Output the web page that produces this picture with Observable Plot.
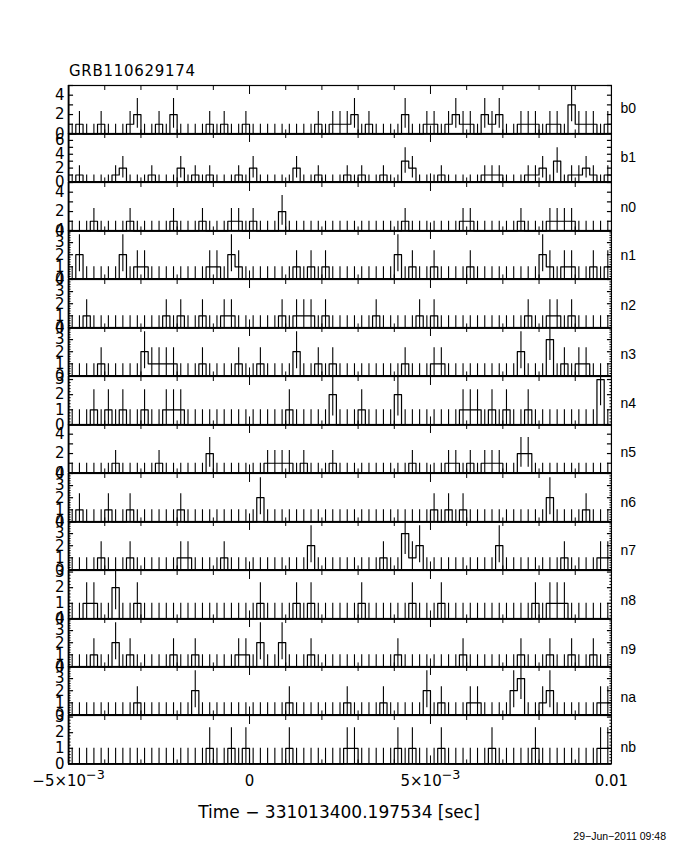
<!DOCTYPE html>
<html><head><meta charset="utf-8">
<script src="https://cdn.jsdelivr.net/npm/d3@7"></script>
<script src="https://cdn.jsdelivr.net/npm/@observablehq/plot@0.6"></script>
<style>
body{margin:0;background:#fff;}
#wrap{position:relative;width:680px;height:850px;background:#fff;overflow:hidden;}
#wrap > div.pan{position:absolute;left:0;}
#over{position:absolute;left:0;top:0;}
</style></head><body><div id="wrap"></div>
<script>
// ---- data ----
const title = "GRB110629174";
const xTitle = "Time \u2212 331013400.197534 [sec]";
const dateText = "29\u2212Jun\u22122011 09:48";
const detectorNames = ["b0","b1","n0","n1","n2","n3","n4","n5","n6","n7","n8","n9","na","nb"];
const binStart = -0.005, binWidth = 0.0002;
const xMinorTicks = [-0.004,-0.003,-0.002,-0.001,0.001,0.002,0.003,0.004,0.006,0.007,0.008,0.009];
const xMajorTicks = [0, 0.005];
const xLabelValues = [-0.005, 0, 0.005, 0.01];
const xLabelTexts = ["\u22125\u00d710^\u22123", "0", "5\u00d710^\u22123", "0.01"];
const yMaxes = [5,7,5,4,4,4,3.2,5,4,4,3.1,4,4,3.1];

const b0 = [0,1,0,0,1, 0,0,0,1,2, 0,0,1,0,2,
            0,0,0,0,1, 0,1,0,0,1, 0,0,0,0,0,
            0,0,0,0,1, 0,1,1,1,2, 0,1,0,0,0,
            0,2,0,0,1, 1,0,1,2,1, 1,0,2,1,2,
            0,0,1,1,1, 0,1,1,0,3, 1,1,1,0,1];
const b1 = [0,1,0,0,0, 0,1,2,0,0, 0,1,0,0,0,
            2,0,1,0,1, 0,0,0,1,0, 2,0,0,0,0,
            0,2,0,0,1, 0,0,0,1,0, 1,0,0,1,0,
            0,3,2,0,0, 0,1,0,0,0, 0,0,1,1,1,
            0,0,0,1,1, 2,0,3,0,1, 1,2,1,0,1];
const n0 = [0,0,0,1,0, 0,0,0,1,0, 0,0,0,0,1,
            0,0,0,1,0, 0,0,1,1,0, 1,0,0,0,2,
            0,0,0,0,0, 0,0,0,0,0, 0,0,0,0,0,
            0,1,0,0,0, 0,0,0,0,1, 1,0,0,0,0,
            0,0,1,0,0, 0,1,1,1,1, 0,0,0,0,0];
const n1 = [0,2,0,0,0, 0,0,2,0,1, 1,0,0,0,0,
            0,0,0,0,1, 1,0,2,1,0, 0,0,0,0,0,
            0,1,0,1,0, 1,0,0,0,0, 0,0,0,0,0,
            2,0,1,0,0, 1,0,0,0,0, 1,0,0,0,0,
            0,0,0,0,0, 2,1,0,1,1, 0,0,1,0,1];
const n2 = [0,0,1,0,0, 0,0,0,0,0, 0,0,0,1,0,
            1,0,0,1,0, 0,1,1,0,0, 0,0,0,0,1,
            0,1,1,1,0, 1,0,0,0,0, 0,0,1,0,0,
            0,0,0,1,0, 1,0,0,0,0, 0,0,0,0,0,
            0,0,0,1,0, 0,1,1,0,1, 0,0,0,0,0];
const n3 = [0,0,0,0,1, 0,0,0,0,0, 2,1,1,1,1,
            0,0,0,1,0, 0,0,0,1,0, 0,1,0,0,0,
            0,2,0,0,1, 0,1,0,0,0, 0,0,0,0,0,
            0,1,0,0,0, 1,1,0,0,0, 0,0,0,0,0,
            0,0,2,0,0, 0,3,0,1,0, 1,1,0,0,0];
const n4 = [0,0,0,1,0, 1,0,1,0,0, 1,0,0,1,1,
            1,0,0,0,0, 0,0,0,0,0, 0,0,0,0,0,
            1,0,0,0,0, 0,2,0,0,0, 1,0,0,0,0,
            2,0,0,0,0, 0,0,0,0,1, 1,1,0,1,0,
            1,0,0,1,0, 0,0,0,0,0, 0,0,0,3,0];
const n5 = [0,0,0,0,0, 0,1,0,0,0, 0,0,1,0,0,
            0,0,0,0,2, 0,0,0,0,0, 0,0,1,1,1,
            1,0,1,0,0, 0,1,0,0,0, 0,0,0,0,0,
            0,0,1,0,0, 0,0,1,1,0, 1,0,1,1,1,
            0,0,2,2,0, 0,0,0,0,0, 0,0,0,0,0];
const n6 = [0,1,0,0,0, 1,0,0,1,0, 0,0,0,0,0,
            1,0,0,0,0, 0,0,0,0,0, 0,2,0,0,0,
            0,0,0,0,0, 0,0,0,0,0, 0,0,0,0,0,
            0,0,0,0,0, 1,0,1,0,1, 0,0,0,0,0,
            0,0,0,0,0, 0,2,0,0,0, 0,1,0,0,0];
const n7 = [0,0,0,0,1, 0,0,0,1,0, 0,0,0,0,0,
            1,1,0,0,0, 0,1,0,0,0, 0,0,0,0,0,
            0,0,0,2,0, 0,0,0,0,0, 0,0,0,1,0,
            0,3,1,2,0, 0,0,0,0,0, 0,0,0,0,2,
            0,0,0,0,0, 0,0,0,1,0, 0,0,0,1,1];
const n8 = [0,0,1,1,0, 0,2,0,0,1, 0,0,0,0,0,
            0,0,0,0,0, 0,0,0,0,0, 0,1,0,0,0,
            0,1,0,1,0, 0,0,0,0,0, 1,0,0,0,0,
            0,0,1,0,0, 0,1,0,0,0, 0,0,0,0,0,
            0,0,0,0,1, 0,1,1,1,0, 0,0,0,0,0];
const n9 = [0,0,0,1,0, 0,2,0,1,0, 0,0,0,0,1,
            0,0,1,0,0, 0,0,0,1,1, 0,2,0,0,2,
            0,0,0,1,0, 0,0,0,0,0, 0,0,0,0,0,
            1,0,0,0,0, 0,0,0,0,1, 0,0,0,0,0,
            0,0,1,0,0, 0,1,0,0,1, 0,0,1,0,0];
const na = [0,0,0,0,0, 0,0,0,0,1, 0,0,0,0,0,
            0,0,2,0,0, 0,0,0,0,0, 0,0,0,0,0,
            1,0,0,0,0, 0,0,0,1,0, 0,0,0,1,0,
            0,0,0,0,2, 0,1,0,0,0, 1,1,0,0,0,
            0,2,3,0,0, 1,2,0,0,0, 0,0,0,1,1];
const nb = [0,0,0,0,0, 0,0,0,0,0, 0,0,0,0,0,
            0,0,0,0,1, 0,0,1,0,1, 0,0,0,0,0,
            1,0,0,0,0, 0,0,0,1,1, 0,0,0,0,0,
            1,0,1,0,0, 0,1,0,0,0, 0,0,0,1,0,
            0,0,0,0,1, 0,0,0,0,0, 0,0,0,1,1];
const countSeries = [b0,b1,n0,n1,n2,n3,n4,n5,n6,n7,n8,n9,na,nb];

// ---- layout ----
const W = 680, ML = 68, MR = 69, TOP0 = 85, PH = 48.45;
const FONT = "DejaVu Sans, sans-serif";
const wrap = document.getElementById("wrap");
const ns = "http://www.w3.org/2000/svg";

// overlay texts
const over = d3.select(wrap).append("svg").attr("id","over").attr("width",W).attr("height",850);
over.append("text").attr("x",69).attr("y",76).attr("font-family",FONT).attr("font-size",15)
  .attr("letter-spacing","0.7px").text(title);
over.append("text").attr("x",339).attr("y",818).attr("text-anchor","middle").attr("font-family",FONT)
  .attr("font-size",17).text(xTitle);
over.append("text").attr("x",666).attr("y",840).attr("text-anchor","end").attr("font-family","Liberation Sans, sans-serif")
  .attr("font-size",10.5).text(dateText);

const noText = () => "";

countSeries.forEach((counts, i) => {
  const ymax = yMaxes[i];
  const name = detectorNames[i];
  const isLast = i === countSeries.length - 1;
  const steps = counts.map((c, k) => ({x: binStart + k * binWidth, y: c}));
  steps.push({x: binStart + counts.length * binWidth, y: counts[counts.length - 1]});
  const bars = counts.map((c, k) => ({
    x: binStart + (k + 0.5) * binWidth,
    lo: Math.max(0, c - Math.sqrt(c)),
    hi: c === 0 ? 1 : c + Math.sqrt(c + 0.75)
  }));
  const wide = ymax >= 5;
  const labels = d3.range(0, Math.floor(ymax) + 1e-9, wide ? 2 : 1);
  const major = d3.range(1, Math.floor(ymax) + 1e-9, 1);
  const minor = wide ? [] : d3.range(0.2, ymax, 0.2).filter(v => Math.abs(v - Math.round(v)) > 1e-6);

  const marks = [
    Plot.line(steps, {x: "x", y: "y", curve: "step-after", stroke: "black", strokeWidth: 1.2}),
    Plot.ruleX(bars, {x: "x", y1: "lo", y2: "hi", stroke: "black", strokeWidth: 1.1, clip: true}),
    Plot.frame({stroke: "black", strokeWidth: 1.2}),
    Plot.ruleY([0], {stroke: "black", strokeWidth: 1.8}),
    Plot.ruleX([binStart], {stroke: "black", strokeWidth: 1.8}),
    Plot.axisY({anchor: "left", ticks: major, tickSize: -5, tickFormat: noText, label: null, strokeWidth: 1.2}),
    Plot.axisY({anchor: "right", ticks: major, tickSize: -5, tickFormat: noText, label: null, strokeWidth: 1.2}),
    Plot.axisY({anchor: "left", ticks: labels, tickSize: 0, tickPadding: 4, tickFormat: d => String(d), label: null,
      fontSize: 15, fontFamily: FONT}),
    Plot.axisX({anchor: "top", ticks: xMinorTicks, tickSize: -4, tickFormat: noText, label: null}),
    Plot.axisX({anchor: "bottom", ticks: xMinorTicks, tickSize: -4, tickFormat: noText, label: null}),
    Plot.axisX({anchor: "top", ticks: xMajorTicks, tickSize: -8, tickFormat: noText, label: null}),
    Plot.axisX({anchor: "bottom", ticks: xMajorTicks, tickSize: -8, tickFormat: noText, label: null}),
    Plot.text([name], {frameAnchor: "top-right", dx: 9, dy: 18 + 0.65 * i, textAnchor: "start", fontSize: 14,
      fontFamily: "Liberation Sans, sans-serif"})
  ];
  if (minor.length) {
    marks.push(Plot.axisY({anchor: "left", ticks: minor, tickSize: -2.5, tickFormat: noText, label: null}));
    marks.push(Plot.axisY({anchor: "right", ticks: minor, tickSize: -2.5, tickFormat: noText, label: null}));
  }
  if (isLast) {
    marks.push(Plot.axisX({anchor: "bottom", ticks: xLabelValues, tickSize: 0, tickPadding: 11, label: null,
      tickFormat: d => xLabelTexts[xLabelValues.indexOf(d)], fontSize: 15, fontFamily: FONT}));
  }

  const chart = Plot.plot({
    width: W, height: PH,
    marginLeft: ML, marginRight: MR, marginTop: 0, marginBottom: 0,
    x: {domain: [binStart, 0.01], label: null},
    y: {domain: [0, ymax], label: null},
    style: {background: "transparent", overflow: "visible", fontFamily: FONT},
    marks
  });

  if (isLast) {
    chart.querySelectorAll("text").forEach(t => {
      const s = t.textContent;
      if (s.includes("^")) {
        const [a, b] = s.split("^");
        t.textContent = "";
        const t1 = document.createElementNS(ns, "tspan"); t1.textContent = a;
        const t2 = document.createElementNS(ns, "tspan"); t2.textContent = b;
        t2.setAttribute("dy", "-0.5em"); t2.setAttribute("font-size", "0.85em");
        t.append(t1, t2);
      }
    });
  }

  const holder = document.createElement("div");
  holder.className = "pan";
  holder.style.top = (TOP0 + i * PH) + "px";
  holder.appendChild(chart);
  wrap.appendChild(holder);
});
</script></body></html>
